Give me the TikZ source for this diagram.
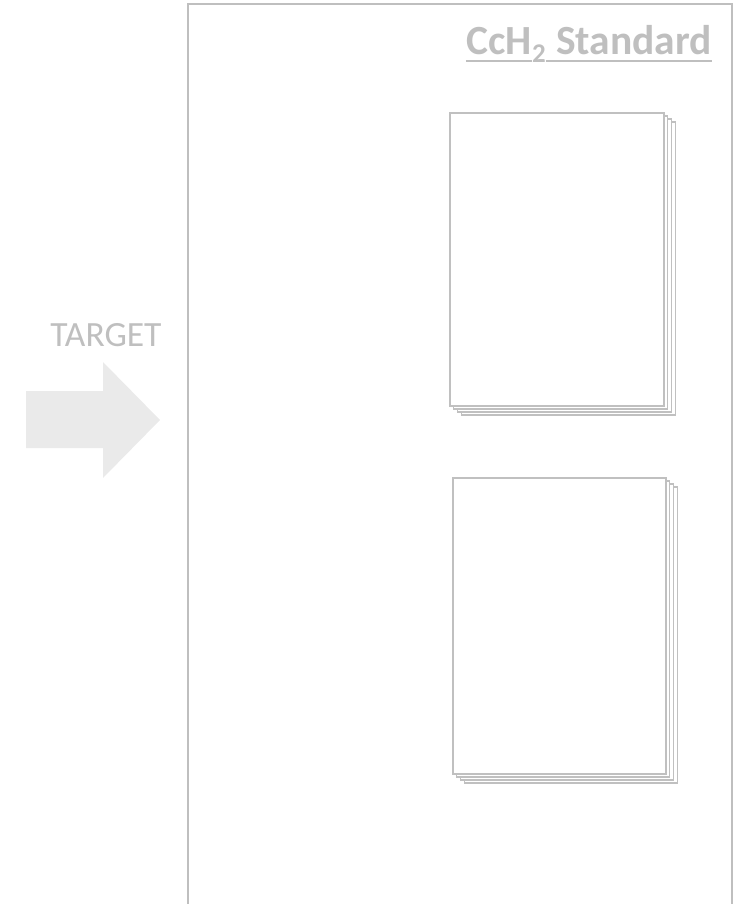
\documentclass[tikz,border=0pt]{standalone}
\usepackage{fontspec}
\setmainfont{Carlito}
\definecolor{framegray}{HTML}{BFBFBF}
\definecolor{textgray}{HTML}{BFBFBF}
\definecolor{arrowgray}{HTML}{EAEAEA}
\definecolor{pagegray}{HTML}{C0C0C0}
\tikzset{
  framebox/.style={draw=framegray, line width=2pt},
  docpage/.style={draw=pagegray, line width=1.6pt, fill=white, inner sep=0pt, anchor=north west},
  titletext/.style={text=textgray, inner sep=0pt, font=\fontsize{41.5}{48}\selectfont\bfseries},
  labeltext/.style={text=textgray, inner sep=0pt, font=\fontsize{35.5}{40}\selectfont},
  uline/.style={draw=textgray, line width=2.2pt}
}
\begin{document}
\begin{tikzpicture}[x=1pt,y=-1pt]
\useasboundingbox (0,0) rectangle (737,904);
\begin{scope}
\clip (0,0) rectangle (737,904);
% outer frame (open at the bottom)
\draw[framebox] (187.5,920) -- (187.5,4) -- (732,4) -- (732,920);

% title
\node[titletext, anchor=base east] (t3) at (712,55) {\hspace*{10pt}Standard};
\node[inner sep=0pt, text=textgray, anchor=base east, font=\fontsize{27}{30}\selectfont\bfseries] (t2) at ([yshift=-8]t3.base west) {2};
\node[titletext, anchor=base east] (t1) at ([yshift=8]t2.base west) {CcH};
\draw[uline] ([yshift=-6]t1.base west) -- ([yshift=-6]t1.base east);
\draw[uline] ([yshift=-6]t3.base west) -- ([yshift=-6]t3.base east);

% first stacked document
\node[docpage, minimum width=214, minimum height=293] (a3) at (460.5,121) {};
\node[docpage, minimum width=214, minimum height=293] (a2) at (456.5,118) {};
\node[docpage, minimum width=214, minimum height=293] (a1) at (452.5,115) {};
\node[docpage, minimum width=214, minimum height=293] (a0) at (449,112) {};

% second stacked document
\node[docpage, minimum width=213, minimum height=296] (b3) at (463.5,486) {};
\node[docpage, minimum width=213, minimum height=296] (b2) at (459.5,483) {};
\node[docpage, minimum width=213, minimum height=296] (b1) at (455.5,480) {};
\node[docpage, minimum width=213, minimum height=296] (b0) at (452,477) {};

% target label and arrow
\node[labeltext, anchor=base] (target) at (106,346) {TARGET};
\fill[arrowgray] (26,391) -- (103,391) -- (103,362) -- (160,420) -- (103,478) -- (103,448) -- (26,448) -- cycle;
\end{scope}
\end{tikzpicture}
\end{document}
